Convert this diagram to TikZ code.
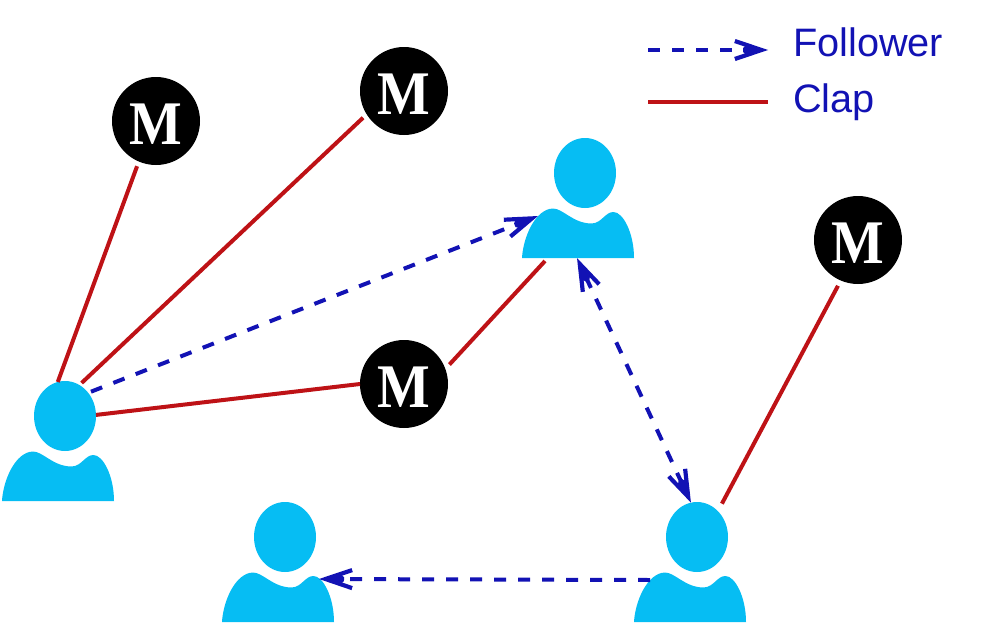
\documentclass[tikz,border=0pt]{standalone}
\usepackage{fontspec}
\setmainfont{Liberation Sans}
\newfontfamily\mfont{Liberation Serif}
\usetikzlibrary{arrows.meta,shapes.geometric}
\definecolor{pcyan}{RGB}{6,189,243}
\definecolor{fblue}{RGB}{18,18,180}
\definecolor{cred}{RGB}{190,18,22}
\pgfdeclarearrow{
  name=FBarb,
  setup code={
    \pgfarrowssettipend{0pt}
    \pgfarrowssetlineend{-21pt}
    \pgfarrowssetvisualbackend{-22pt}
    \pgfarrowssetbackend{-34pt}
    \pgfarrowshullpoint{0pt}{0pt}
    \pgfarrowshullpoint{-33.5pt}{11pt}
    \pgfarrowshullpoint{-33.5pt}{-11pt}
  },
  drawing code={
    \pgfpathmoveto{\pgfpoint{0pt}{0pt}}
    \pgfpathlineto{\pgfpoint{-32.5pt}{11pt}}
    \pgfpathlineto{\pgfpoint{-33.8pt}{7pt}}
    \pgfpathlineto{\pgfpoint{-23pt}{3.4pt}}
    \pgfpathlineto{\pgfpoint{-25pt}{2pt}}
    \pgfpathlineto{\pgfpoint{-25pt}{-2pt}}
    \pgfpathlineto{\pgfpoint{-23pt}{-3.4pt}}
    \pgfpathlineto{\pgfpoint{-33.8pt}{-7pt}}
    \pgfpathlineto{\pgfpoint{-32.5pt}{-11pt}}
    \pgfpathclose
    \pgfusepathqfill
  }
}
\tikzset{
  x=1pt,y=-1pt,
  barbtip/.tip={FBarb},
  follow/.style={draw=fblue,line width=4pt,dash pattern=on 12pt off 12pt},
  clap/.style={draw=cred,line width=4pt},
  medium/.style={circle,fill=black,text=white,inner sep=0pt,outer sep=0pt,minimum size=88pt,
    text height=47pt,text depth=0pt,font=\mfont\bfseries\fontsize{62}{62}\selectfont},
  legendtext/.style={text=fblue,anchor=base west,inner sep=0pt,font=\fontsize{39.7}{40}\selectfont},
  person/.pic={
    \fill[pcyan] (-63,85) .. controls (-62,65) and (-50,36) .. (-32,35.5)
      .. controls (-22,35.5) and (-12,50.5) .. (6.7,50.5)
      .. controls (17,50) and (20,39) .. (28.5,39)
      .. controls (38,39) and (49,60) .. (49,85) -- cycle;
    \node[ellipse,fill=pcyan,inner sep=0pt,outer sep=0pt,minimum width=62pt,minimum height=70pt] (-head) at (0,0) {};
    \coordinate (-ls) at (-47,43);
    \coordinate (-rs) at (34,42);
    \coordinate (-base) at (-8,85);
    \coordinate (-under) at (-40,88);
  }
}
\begin{document}
\begin{tikzpicture}
\useasboundingbox (0,0) rectangle (988,624);
\pic (p1) at (65,416) {person};
\pic (p2) at (585,173) {person};
\pic (p3) at (285,537) {person};
\pic (p4) at (697,537) {person};
\node[medium] (m1) at (156,121) {\scalebox{.9}[1]{M}};
\node[medium] (m2) at (404,91) {\scalebox{.9}[1]{M}};
\node[medium] (m3) at (404,384) {\scalebox{.9}[1]{M}};
\node[medium] (m4) at (858,240) {\scalebox{.9}[1]{M}};
\draw[clap,shorten >=5pt] (p1-head.102) -- (m1.247);
\draw[clap,shorten <=3pt,shorten >=5pt] (p1-head.65) -- (m2.212);
\draw[clap] (p1-head.2) -- (m3.180);
\draw[clap,shorten >=6pt] (p2-under) -- (m3.20);
\draw[clap,shorten <=8.5pt,shorten >=6pt] (p4-head.51) -- (m4.247);
\draw[follow,-{barbtip},shorten <=3pt] (p1-head.45) -- (p2-ls);
\draw[follow,{barbtip}-{barbtip}] (p2-base) -- (p4-head.100);
\draw[follow,-{barbtip}] (p4-ls) -- (p3-rs);
\coordinate (la) at (648,50);
\coordinate (lb) at (768,50);
\coordinate (lc) at (648,102);
\coordinate (ld) at (768,102);
\draw[follow,-{barbtip}] (la) -- (lb);
\draw[clap] (lc) -- (ld);
\node[legendtext] (t1) at (793,56) {Follower};
\node[legendtext] (t2) at (793,112) {Clap};
\end{tikzpicture}
\end{document}
